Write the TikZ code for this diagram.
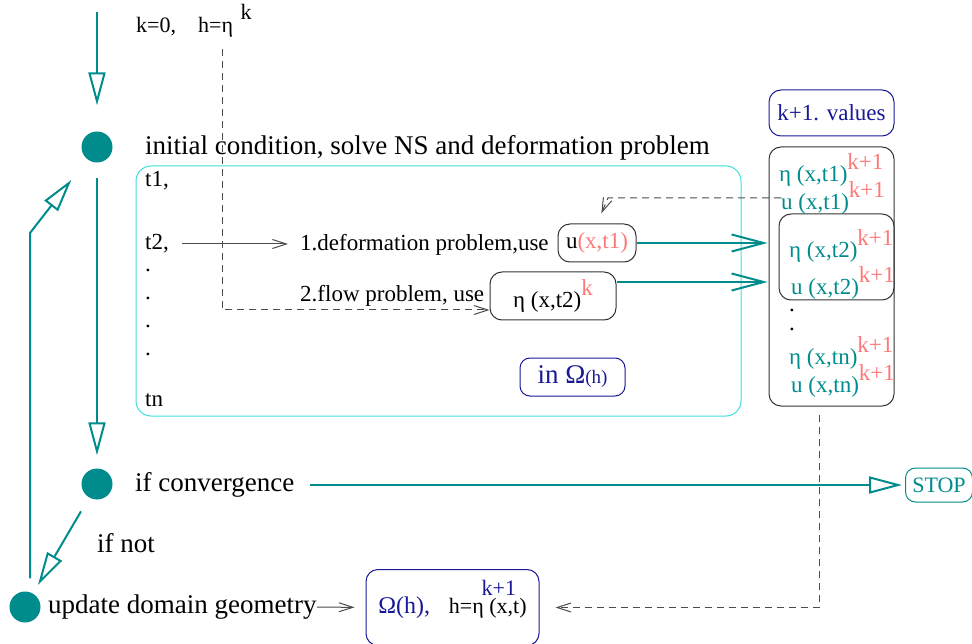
\documentclass[tikz,border=0pt]{standalone}
\usepackage{fontspec}
\setmainfont{Liberation Serif}
\usetikzlibrary{arrows.meta,positioning}
\definecolor{flowteal}{RGB}{0,140,140}
\definecolor{supred}{RGB}{255,120,120}
\definecolor{boxblue}{RGB}{25,25,150}
\definecolor{stepcyan}{RGB}{64,222,222}
\newcommand{\hi}[1]{\raisebox{0.55em}{\textcolor{supred}{#1}}}
\newcommand{\bigtxt}{\fontsize{27}{30}\selectfont}
\newcommand{\midtxt}{\fontsize{23}{26}\selectfont}
\newcommand{\lowtxt}{\fontsize{22}{24}\selectfont}

\begin{document}
\begin{tikzpicture}[x=1pt,y=-1pt,
  station/.style={circle, fill=flowteal, minimum size=31pt, inner sep=0pt},
  big/.style={font=\bigtxt, anchor=west, inner sep=0pt},
  mid/.style={font=\midtxt, anchor=west, inner sep=0pt},
  flow/.style={draw=flowteal, line width=2pt, -{Triangle[open,length=33pt,width=17pt]}},
  push/.style={draw=flowteal, line width=2pt, -{Straight Barb[length=32pt,width=17pt]}},
  pointer/.style={draw=black!70, line width=1pt, -{Straight Barb[length=14pt,width=9pt]}},
  dashline/.style={pointer, dash pattern=on 7pt off 5pt},
  vbox/.style={draw=black!80, rounded corners=12pt, line width=1pt, inner sep=0pt, font=\midtxt}
]
\useasboundingbox (0,0) rectangle (972,644);

% iteration stations
\node[station] (start) at (97,147) {};
\node[station] (conv) at (97,484) {};
\node[station] (update) at (25,607) {};
\coordinate (entry) at (97,12);
\coordinate (bend) at (30,233);

\node[anchor=west, inner sep=0pt, font=\lowtxt] (kzero) at (136,27) {k=0,\quad h=η\hspace{0.35em}\smash{\raisebox{0.6em}{k}}};
\node[big] (initxt) at (145,148) {initial condition, solve NS and deformation problem};
\node[big] (convtxt) at (135,485) {if convergence};
\node[big] (nottxt) at (97,543) {if not};
\node[big] (updtxt) at (48,607) {update domain geometry};

% time steps
\node[draw=stepcyan, rounded corners=15pt, line width=1pt, minimum width=605pt, minimum height=250pt] (steps) at (438.5,291) {};
\node[mid] (t1) at (145,181) {t1,};
\node[mid] (t2) at (145,244) {t2,};
\foreach \y [count=\i] in {270,298,326,354}
  \node[mid] (gap\i) at (145,\y) {.};
\node[mid] (tn) at (145,400) {tn};

\node[mid] (deftxt) at (300,245) {1.deformation problem,use};
\node[vbox, minimum width=78pt, minimum height=38pt] (uold) at (597,243) {u\textcolor{supred}{(x,t1)}};
\node[mid] (flowtxt) at (300,296) {2.flow problem, use};
\node[vbox, minimum width=126pt, minimum height=48pt] (etaold) at (553,296) {η (x,t2)\hi{k}};
\node[vbox, draw=boxblue, text=boxblue, rounded corners=10pt, minimum width=105pt, minimum height=38pt, font=\fontsize{27}{29}\selectfont] (domain) at (572.5,377) {in Ω{\fontsize{19}{21}\selectfont(h)}};

% new values
\node[vbox, draw=boxblue, text=boxblue, minimum width=125pt, minimum height=46pt] (header) at (831.5,113) {k+1. values};
\node[vbox, minimum width=125pt, minimum height=259pt] (values) at (831.5,276.5) {};
\node[vbox, minimum width=115pt, minimum height=86pt] (newt2) at (836.5,257) {};
\node[mid, text=flowteal] (neweta1) at (779,170) {η (x,t1)\hi{k+1}};
\node[mid, text=flowteal] (newu1) at (781,198) {u (x,t1)\hi{k+1}};
\node[mid, text=flowteal] (neweta2) at (789,246) {η (x,t2)\hi{k+1}};
\node[mid, text=flowteal] (newu2) at (791,283) {u (x,t2)\hi{k+1}};
\node[mid] (vgap1) at (789,310) {.};
\node[mid] (vgap2) at (789,329) {.};
\node[mid, text=flowteal] (newetan) at (789,353) {η (x,tn)\hi{k+1}};
\node[mid, text=flowteal] (newun) at (791,381) {u (x,tn)\hi{k+1}};

\node[draw=flowteal, text=flowteal, rounded corners=10pt, line width=1pt, minimum width=67pt, minimum height=34pt, inner sep=0pt, font=\fontsize{22}{24}\selectfont] (stop) at (939,485) {STOP};
\node[vbox, draw=boxblue, minimum width=173pt, minimum height=76pt, font=\lowtxt] (geo) at (452.5,607.5)
  {\textcolor{boxblue}{\fontsize{24}{26}\selectfont Ω(h),}\hspace{0.6em} h=η\rlap{\hspace{-0.1em}\smash{\raisebox{0.8em}{\textcolor{boxblue}{k+1}}}} (x,t)};

% loop connectors
\draw[flow, shorten >=26pt] (entry) -- (start);
\draw[flow, shorten <=15pt, shorten >=13pt] (start) -- (conv);
\draw[flow, shorten <=16pt, shorten >=10pt] (conv) -- (update);
\draw[flow, shorten <=13pt, shorten >=26pt] (update.north -| bend) -- (bend) -- (start);
\draw[flow, shorten <=15pt, shorten >=3pt] (convtxt.east) -- (stop);
\draw[pointer, shorten >=11pt] (updtxt.east) -- (geo.west);

% inside a time step
\draw[pointer, shorten <=13pt, shorten >=12pt] (t2.east) -- (t2.east -| deftxt.west);
\draw[push, shorten >=11pt] (uold.east) -- (uold.east -| newt2.west);
\draw[push, shorten >=11pt] ([yshift=14pt]etaold.east) -- ([yshift=14pt]etaold.east -| newt2.west);
\draw[dashline] (kzero.south -| 222,0) ++(0,12) |- ([yshift=-14pt]etaold.west);
\draw[dashline, shorten >=11pt] (newu1.west) -- ++(-173,0) -- (uold.north);
\draw[dashline, shorten <=8pt, shorten >=16pt] ([xshift=-12.5pt]values.south) |- (geo.east);
\end{tikzpicture}
\end{document}
